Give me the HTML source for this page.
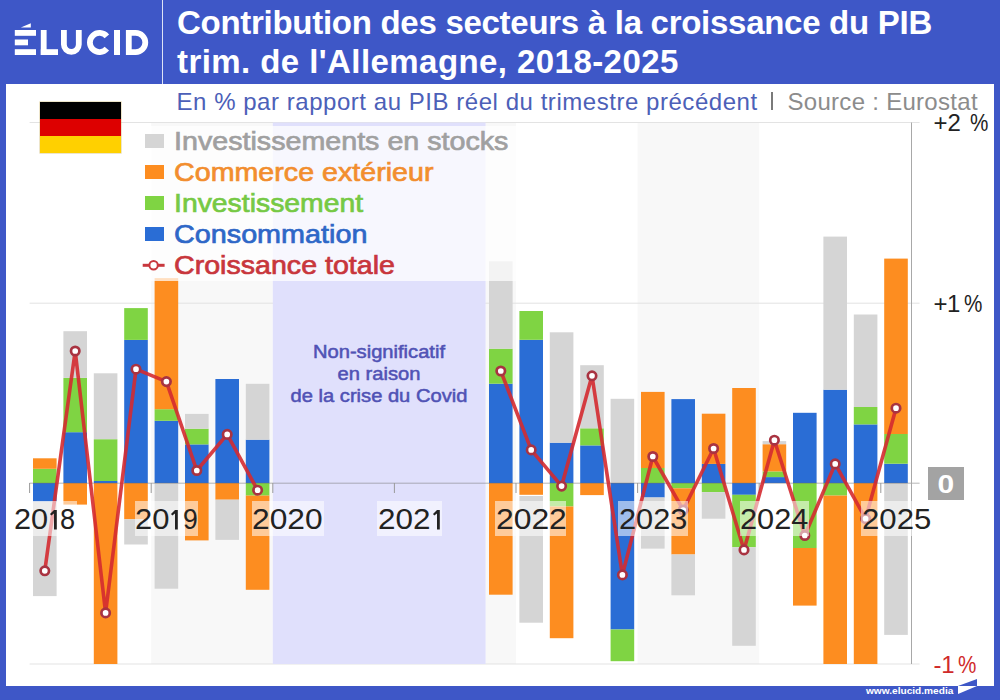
<!DOCTYPE html>
<html><head><meta charset="utf-8">
<style>
html,body{margin:0;padding:0;}
body{width:1000px;height:700px;position:relative;overflow:hidden;background:#3e57c7;font-family:"Liberation Sans",sans-serif;}
.abs{position:absolute;}
#panel{position:absolute;left:6px;top:84px;width:988px;height:602px;background:#fff;}
#divider{position:absolute;left:161.8px;top:0;width:1.6px;height:84px;background:#dde3f6;}
#title{position:absolute;left:177px;top:2.5px;color:#fff;font-weight:bold;font-size:33px;line-height:39.2px;white-space:nowrap;}
.sub{position:absolute;left:178px;top:88px;font-size:24px;line-height:28px;white-space:nowrap;color:#4c60b8;}
.sub.gr{color:#8c8c8c;}
svg{position:absolute;left:0;top:0;}
.ylbg{position:absolute;top:501.3px;height:34.6px;background:rgba(255,255,255,0.55);}
.one{position:absolute;}
.yl{position:absolute;top:499.4px;height:40px;line-height:40px;font-size:28.6px;color:#222;white-space:nowrap;transform-origin:0 0;}
#legbox{position:absolute;left:142px;top:126px;width:374px;height:155px;background:rgba(255,255,255,0.72);}
.lsq{position:absolute;left:144.6px;width:19.4px;height:14px;}
.leg{position:absolute;left:173.5px;transform-origin:0 0;font-size:26px;line-height:31px;white-space:nowrap;font-weight:normal;-webkit-text-stroke:0.7px currentColor;}
#flag{position:absolute;left:39.5px;top:102px;width:81.5px;height:51px;box-shadow:0 0 0 0.6px rgba(190,160,60,0.45);}
#flag div{height:33.33%;}
.zero{position:absolute;left:928px;top:467px;width:36px;height:33.4px;background:#a3a3a3;color:#fff;font-size:25px;font-weight:bold;line-height:34.5px;text-align:center;}
.ax{position:absolute;font-size:24px;line-height:28px;color:#222;white-space:nowrap;}
.pc{transform:scaleX(0.86);transform-origin:0 0;}
#covid{position:absolute;left:279px;top:341px;width:200px;text-align:center;color:#5052b5;font-weight:normal;-webkit-text-stroke:0.5px currentColor;font-size:17.5px;line-height:22px;transform:scaleX(1.15);transform-origin:100px 0;}
#foot{position:absolute;left:865.5px;top:685px;color:#fff;font-weight:bold;font-size:9.6px;line-height:12px;transform-origin:0 0;transform:scaleX(1.055);}
</style></head><body>
<div id="panel"></div>
<div id="divider"></div>
<!-- logo -->
<svg width="160" height="70" style="left:0;top:0"><g fill="#fff">
<rect x="14.8" y="30" width="21.2" height="5.8"/><rect x="14.8" y="39.5" width="13.2" height="5.8"/><rect x="14.8" y="49.2" width="21.2" height="5.8"/>
<polygon points="20.8,27.6 30.8,23.2 30.8,27.6"/>
<rect x="40.8" y="30" width="5.8" height="25"/><rect x="40.8" y="49.2" width="17.2" height="5.8"/>
<rect x="114" y="30" width="6" height="25"/>
</g><g fill="none" stroke="#fff" stroke-width="5.8">
<path d="M63.9,30 V44.45 A7.45,7.45 0 0 0 78.8,44.45 V30"/>
<path d="M106.85,36.33 A9.6,9.6 0 1 0 106.85,48.67"/>
<path d="M128.8,30 V55 M128.8,32.9 H135.7 A9.6,9.6 0 0 1 135.7,52.1 H128.8"/>
</g></svg>
<div id="title"><div style="letter-spacing:-0.28px">Contribution des secteurs à la croissance du PIB</div><div style="letter-spacing:0.43px">trim. de l'Allemagne, 2018-2025</div></div>
<div class="sub" style="left:176.5px;letter-spacing:0.54px">En % par rapport au PIB réel du trimestre précédent</div><div class="abs" style="left:771px;top:91.5px;width:1.5px;height:18.5px;background:#7a7a7a"></div><div class="sub gr" style="left:787.5px;letter-spacing:0.29px">Source : Eurostat</div>
<svg width="1000" height="700"><rect x="151.2" y="122.5" width="121.6" height="541.5" fill="#f8f8f8"/><rect x="485.6" y="122.5" width="30.4" height="541.5" fill="#f8f8f8"/><rect x="637.6" y="122.5" width="121.6" height="541.5" fill="#f8f8f8"/><line x1="29.6" y1="122.5" x2="919.6" y2="122.5" stroke="#e3e3e3" stroke-width="1"/><line x1="29.6" y1="303.2" x2="919.6" y2="303.2" stroke="#e3e3e3" stroke-width="1"/><line x1="29.6" y1="664" x2="919.6" y2="664" stroke="#e3e3e3" stroke-width="1"/><rect x="272.8" y="122.5" width="212.8" height="541.5" fill="#e0e0fc"/><rect x="33.0" y="468.8" width="23.6" height="14.2" fill="#7fd443"/><rect x="33.0" y="458.3" width="23.6" height="10.5" fill="#fd8d20"/><rect x="33.0" y="483" width="23.6" height="18.6" fill="#2a6dd5"/><rect x="33.0" y="501.6" width="23.6" height="94.5" fill="#d5d5d5"/><rect x="63.4" y="432.2" width="23.6" height="50.8" fill="#2a6dd5"/><rect x="63.4" y="377.9" width="23.6" height="54.3" fill="#7fd443"/><rect x="63.4" y="331.2" width="23.6" height="46.7" fill="#d5d5d5"/><rect x="63.4" y="483" width="23.6" height="21.6" fill="#fd8d20"/><rect x="93.8" y="481" width="23.6" height="2.0" fill="#2a6dd5"/><rect x="93.8" y="439.2" width="23.6" height="41.8" fill="#7fd443"/><rect x="93.8" y="373.3" width="23.6" height="65.9" fill="#d5d5d5"/><rect x="93.8" y="483" width="23.6" height="181.0" fill="#fd8d20"/><rect x="124.2" y="339.9" width="23.6" height="143.1" fill="#2a6dd5"/><rect x="124.2" y="308.1" width="23.6" height="31.8" fill="#7fd443"/><rect x="124.2" y="483" width="23.6" height="36.3" fill="#fd8d20"/><rect x="124.2" y="519.3" width="23.6" height="25.2" fill="#d5d5d5"/><rect x="154.6" y="420.8" width="23.6" height="62.2" fill="#2a6dd5"/><rect x="154.6" y="409.2" width="23.6" height="11.6" fill="#7fd443"/><rect x="154.6" y="278.1" width="23.6" height="131.1" fill="#fd8d20"/><rect x="154.6" y="483" width="23.6" height="105.7" fill="#d5d5d5"/><rect x="185.0" y="444.4" width="23.6" height="38.6" fill="#2a6dd5"/><rect x="185.0" y="428.7" width="23.6" height="15.7" fill="#7fd443"/><rect x="185.0" y="413.9" width="23.6" height="14.8" fill="#d5d5d5"/><rect x="185.0" y="483" width="23.6" height="57.4" fill="#fd8d20"/><rect x="215.4" y="379" width="23.6" height="104.0" fill="#2a6dd5"/><rect x="215.4" y="483" width="23.6" height="16.7" fill="#fd8d20"/><rect x="215.4" y="499.7" width="23.6" height="40.2" fill="#d5d5d5"/><rect x="245.8" y="439.7" width="23.6" height="43.3" fill="#2a6dd5"/><rect x="245.8" y="383.8" width="23.6" height="55.9" fill="#d5d5d5"/><rect x="245.8" y="483" width="23.6" height="12.6" fill="#7fd443"/><rect x="245.8" y="495.6" width="23.6" height="94.2" fill="#fd8d20"/><rect x="489.0" y="383.7" width="23.6" height="99.3" fill="#2a6dd5"/><rect x="489.0" y="348.7" width="23.6" height="35.0" fill="#7fd443"/><rect x="489.0" y="261.3" width="23.6" height="87.4" fill="#d5d5d5"/><rect x="489.0" y="483" width="23.6" height="111.7" fill="#fd8d20"/><rect x="519.4" y="339.8" width="23.6" height="143.2" fill="#2a6dd5"/><rect x="519.4" y="311" width="23.6" height="28.8" fill="#7fd443"/><rect x="519.4" y="483" width="23.6" height="11.8" fill="#fd8d20"/><rect x="519.4" y="496" width="23.6" height="126.7" fill="#d5d5d5"/><rect x="549.8" y="442.7" width="23.6" height="40.3" fill="#2a6dd5"/><rect x="549.8" y="332.3" width="23.6" height="110.4" fill="#d5d5d5"/><rect x="549.8" y="483" width="23.6" height="23.5" fill="#7fd443"/><rect x="549.8" y="506.5" width="23.6" height="131.7" fill="#fd8d20"/><rect x="580.2" y="445.4" width="23.6" height="37.6" fill="#2a6dd5"/><rect x="580.2" y="428.3" width="23.6" height="17.1" fill="#7fd443"/><rect x="580.2" y="365.2" width="23.6" height="63.1" fill="#d5d5d5"/><rect x="580.2" y="483" width="23.6" height="12.1" fill="#fd8d20"/><rect x="610.6" y="398.8" width="23.6" height="84.2" fill="#d5d5d5"/><rect x="610.6" y="483" width="23.6" height="146.5" fill="#2a6dd5"/><rect x="610.6" y="629.5" width="23.6" height="31.7" fill="#7fd443"/><rect x="641.0" y="468" width="23.6" height="15.0" fill="#7fd443"/><rect x="641.0" y="391.9" width="23.6" height="76.1" fill="#fd8d20"/><rect x="641.0" y="483" width="23.6" height="14.5" fill="#2a6dd5"/><rect x="641.0" y="497.5" width="23.6" height="51.1" fill="#d5d5d5"/><rect x="671.4" y="399.1" width="23.6" height="83.9" fill="#2a6dd5"/><rect x="671.4" y="483" width="23.6" height="5.3" fill="#7fd443"/><rect x="671.4" y="488.3" width="23.6" height="66.2" fill="#fd8d20"/><rect x="671.4" y="554.5" width="23.6" height="40.8" fill="#d5d5d5"/><rect x="701.8" y="463.9" width="23.6" height="19.1" fill="#2a6dd5"/><rect x="701.8" y="413.7" width="23.6" height="50.2" fill="#fd8d20"/><rect x="701.8" y="483" width="23.6" height="9.1" fill="#7fd443"/><rect x="701.8" y="492.1" width="23.6" height="26.6" fill="#d5d5d5"/><rect x="732.2" y="388" width="23.6" height="95.0" fill="#fd8d20"/><rect x="732.2" y="483" width="23.6" height="11.8" fill="#2a6dd5"/><rect x="732.2" y="494.8" width="23.6" height="52.4" fill="#7fd443"/><rect x="732.2" y="547.2" width="23.6" height="98.6" fill="#d5d5d5"/><rect x="762.6" y="477.1" width="23.6" height="5.9" fill="#2a6dd5"/><rect x="762.6" y="471.4" width="23.6" height="5.7" fill="#7fd443"/><rect x="762.6" y="444.2" width="23.6" height="27.2" fill="#fd8d20"/><rect x="762.6" y="441.1" width="23.6" height="3.1" fill="#d5d5d5"/><rect x="793.0" y="412.8" width="23.6" height="70.2" fill="#2a6dd5"/><rect x="793.0" y="483" width="23.6" height="65.0" fill="#7fd443"/><rect x="793.0" y="548" width="23.6" height="57.6" fill="#fd8d20"/><rect x="823.4" y="389.7" width="23.6" height="93.3" fill="#2a6dd5"/><rect x="823.4" y="236.6" width="23.6" height="153.1" fill="#d5d5d5"/><rect x="823.4" y="483" width="23.6" height="12.6" fill="#7fd443"/><rect x="823.4" y="495.6" width="23.6" height="168.4" fill="#fd8d20"/><rect x="853.8" y="424.4" width="23.6" height="58.6" fill="#2a6dd5"/><rect x="853.8" y="407" width="23.6" height="17.4" fill="#7fd443"/><rect x="853.8" y="314.5" width="23.6" height="92.5" fill="#d5d5d5"/><rect x="853.8" y="483" width="23.6" height="181.0" fill="#fd8d20"/><rect x="884.2" y="463.7" width="23.6" height="19.3" fill="#2a6dd5"/><rect x="884.2" y="434" width="23.6" height="29.7" fill="#7fd443"/><rect x="884.2" y="258.6" width="23.6" height="175.4" fill="#fd8d20"/><rect x="884.2" y="483" width="23.6" height="151.9" fill="#d5d5d5"/><line x1="29.6" y1="483.2" x2="919.6" y2="483.2" stroke="#707070" stroke-opacity="0.5" stroke-width="1"/><line x1="29.6" y1="483" x2="29.6" y2="493" stroke="#9a9a9a" stroke-width="1"/><line x1="151.2" y1="483" x2="151.2" y2="493" stroke="#9a9a9a" stroke-width="1"/><line x1="272.8" y1="483" x2="272.8" y2="493" stroke="#9a9a9a" stroke-width="1"/><line x1="394.4" y1="483" x2="394.4" y2="493" stroke="#9a9a9a" stroke-width="1"/><line x1="516.0" y1="483" x2="516.0" y2="493" stroke="#9a9a9a" stroke-width="1"/><line x1="637.6" y1="483" x2="637.6" y2="493" stroke="#9a9a9a" stroke-width="1"/><line x1="759.2" y1="483" x2="759.2" y2="493" stroke="#9a9a9a" stroke-width="1"/><line x1="880.8" y1="483" x2="880.8" y2="493" stroke="#9a9a9a" stroke-width="1"/><line x1="911.5" y1="122.5" x2="911.5" y2="664" stroke="#a8a8a8" stroke-width="1"/><polyline points="44.8,570.8 75.2,351 105.6,612.9 136.0,369.2 166.4,381.6 196.8,470.5 227.2,434.4 257.6,490.2" fill="none" stroke="#d42a30" stroke-opacity="0.9" stroke-width="3.6" stroke-linejoin="round"/><polyline points="500.8,371 531.2,449.9 561.6,486.1 592.0,375.8 622.4,574.9 652.8,456.5 683.2,510 713.6,448.5 744.0,549.9 774.4,440.2 804.8,535.5 835.2,463.9 865.6,518.7 896.0,408.2" fill="none" stroke="#d42a30" stroke-opacity="0.9" stroke-width="3.6" stroke-linejoin="round"/><circle cx="44.8" cy="570.8" r="4.2" fill="#fff" stroke="#a93341" stroke-width="2.7"/><circle cx="75.2" cy="351" r="4.2" fill="#fff" stroke="#a93341" stroke-width="2.7"/><circle cx="105.6" cy="612.9" r="4.2" fill="#fff" stroke="#a93341" stroke-width="2.7"/><circle cx="136.0" cy="369.2" r="4.2" fill="#fff" stroke="#a93341" stroke-width="2.7"/><circle cx="166.4" cy="381.6" r="4.2" fill="#fff" stroke="#a93341" stroke-width="2.7"/><circle cx="196.8" cy="470.5" r="4.2" fill="#fff" stroke="#a93341" stroke-width="2.7"/><circle cx="227.2" cy="434.4" r="4.2" fill="#fff" stroke="#a93341" stroke-width="2.7"/><circle cx="257.6" cy="490.2" r="4.2" fill="#fff" stroke="#a93341" stroke-width="2.7"/><circle cx="500.8" cy="371" r="4.2" fill="#fff" stroke="#a93341" stroke-width="2.7"/><circle cx="531.2" cy="449.9" r="4.2" fill="#fff" stroke="#a93341" stroke-width="2.7"/><circle cx="561.6" cy="486.1" r="4.2" fill="#fff" stroke="#a93341" stroke-width="2.7"/><circle cx="592.0" cy="375.8" r="4.2" fill="#fff" stroke="#a93341" stroke-width="2.7"/><circle cx="622.4" cy="574.9" r="4.2" fill="#fff" stroke="#a93341" stroke-width="2.7"/><circle cx="652.8" cy="456.5" r="4.2" fill="#fff" stroke="#a93341" stroke-width="2.7"/><circle cx="683.2" cy="510" r="4.2" fill="#fff" stroke="#a93341" stroke-width="2.7"/><circle cx="713.6" cy="448.5" r="4.2" fill="#fff" stroke="#a93341" stroke-width="2.7"/><circle cx="744.0" cy="549.9" r="4.2" fill="#fff" stroke="#a93341" stroke-width="2.7"/><circle cx="774.4" cy="440.2" r="4.2" fill="#fff" stroke="#a93341" stroke-width="2.7"/><circle cx="804.8" cy="535.5" r="4.2" fill="#fff" stroke="#a93341" stroke-width="2.7"/><circle cx="835.2" cy="463.9" r="4.2" fill="#fff" stroke="#a93341" stroke-width="2.7"/><circle cx="865.6" cy="518.7" r="4.2" fill="#fff" stroke="#a93341" stroke-width="2.7"/><circle cx="896.0" cy="408.2" r="4.2" fill="#fff" stroke="#a93341" stroke-width="2.7"/></svg>
<div class="ylbg" style="left:13.1px;width:63.7px"></div><div class="yl" style="left:13.83px;transform:scaleX(1.0733)">20</div><svg class="one" width="7" height="20" style="left:49.9px;top:509.5px"><polygon points="4.0,0 6.8,0 6.8,19.6 4.0,19.6 4.0,3.4 1.3,5.6 0,3.9" fill="#222"/></svg><div class="yl" style="left:60.15px;transform:scaleX(0.9500)">8</div><div class="ylbg" style="left:134.7px;width:63.3px"></div><div class="yl" style="left:135.22px;transform:scaleX(1.0833)">20</div><svg class="one" width="7" height="20" style="left:171.3px;top:509.5px"><polygon points="4.0,0 6.8,0 6.8,19.6 4.0,19.6 4.0,3.4 1.3,5.6 0,3.9" fill="#222"/></svg><div class="yl" style="left:182.57px;transform:scaleX(0.9286)">9</div><div class="ylbg" style="left:252.1px;width:71.8px"></div><div class="yl" style="left:252.49px;transform:scaleX(1.1097)">2020</div><div class="ylbg" style="left:377.2px;width:64.7px"></div><div class="yl" style="left:378.40px;transform:scaleX(1.1000)">202</div><svg class="one" width="7" height="20" style="left:432.6px;top:509.5px"><polygon points="4.0,0 6.8,0 6.8,19.6 4.0,19.6 4.0,3.4 1.3,5.6 0,3.9" fill="#222"/></svg><div class="ylbg" style="left:495.3px;width:70.9px"></div><div class="yl" style="left:495.69px;transform:scaleX(1.1131)">2022</div><div class="ylbg" style="left:618.4px;width:69.6px"></div><div class="yl" style="left:618.83px;transform:scaleX(1.0742)">2023</div><div class="ylbg" style="left:739.8px;width:69.6px"></div><div class="yl" style="left:740.23px;transform:scaleX(1.0742)">2024</div><div class="ylbg" style="left:861.1px;width:70.5px"></div><div class="yl" style="left:861.51px;transform:scaleX(1.0887)">2025</div>
<div id="covid">Non-significatif<br>en raison<br>de la crise du Covid</div>
<div id="legbox"></div>
<div class="lsq" style="top:134px;background:#d5d5d5"></div>
<div class="lsq" style="top:165px;background:#fd8d20"></div>
<div class="lsq" style="top:196.3px;background:#7fd443"></div>
<div class="lsq" style="top:226.7px;background:#2a6dd5"></div>
<div class="leg" style="top:126px;color:#a0a0a0;transform:scaleX(1.102)">Investissements en stocks</div>
<div class="leg" style="top:157px;color:#f28e2e;transform:scaleX(1.102)">Commerce extérieur</div>
<div class="leg" style="top:188px;color:#76c944;transform:scaleX(1.091)">Investissement</div>
<div class="leg" style="top:219px;color:#2e67c7;transform:scaleX(1.106)">Consommation</div>
<div class="leg" style="top:250px;color:#c8363c;transform:scaleX(1.10)">Croissance totale</div>
<svg width="30" height="20" style="left:140px;top:255px"><line x1="2.7" y1="10.3" x2="24.6" y2="10.3" stroke="#c8373d" stroke-width="3"/><circle cx="13.6" cy="10.3" r="4.2" fill="#fff" stroke="#c8373d" stroke-width="2"/></svg>
<div id="flag"><div style="background:#000"></div><div style="background:#dd0000"></div><div style="background:#ffd000"></div></div>
<div class="ax" style="left:933.6px;top:108.7px">+2</div><div class="ax pc" style="left:970.2px;top:108.7px">%</div>
<div class="ax" style="left:933.6px;top:289.5px">+<span style="margin-left:-0.6px">1</span></div><div class="ax pc" style="left:963.5px;top:289.5px">%</div>
<div class="zero"><span style="display:inline-block;transform:scaleX(1.2)">0</span></div>
<div class="ax" style="left:933.4px;top:650.5px;color:#d02a2a">-<span style="margin-left:-0.2px">1</span></div><div class="ax pc" style="left:958.1px;top:650.5px;color:#d02a2a">%</div>
<div id="foot">www.elucid.media</div>
<svg width="30" height="20" style="left:950px;top:676px"><polygon points="8,10 27,3 27,10 8,18" fill="#fff"/><polygon points="8,10 27,3 27,10" fill="#3e57c7"/></svg>
</body></html>
